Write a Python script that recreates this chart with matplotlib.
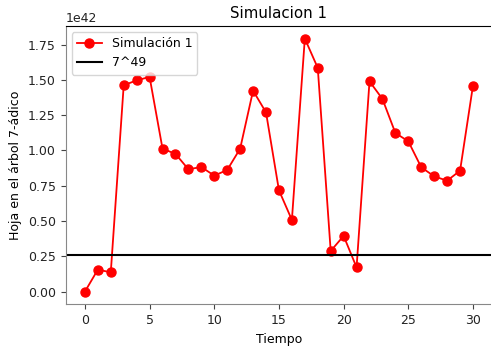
import matplotlib
matplotlib.use("Agg")
import matplotlib.pyplot as plt

plt.rcParams["font.family"] = ["DejaVu Sans"]
plt.rcParams["font.size"] = 9

tiempo = list(range(31))
hoja = [0.000, 0.156, 0.137, 1.462, 1.497, 1.521, 1.013, 0.976, 0.867, 0.883,
        0.822, 0.862, 1.013, 1.424, 1.270, 0.718, 0.508, 1.793, 1.585, 0.288,
        0.395, 0.172, 1.490, 1.365, 1.124, 1.065, 0.881, 0.817, 0.786, 0.857,
        1.460]
hoja = [v * 1e42 for v in hoja]
umbral = 7 ** 49

fig = plt.figure(figsize=(4.91, 3.48), dpi=100)
ax = fig.add_axes([65.5 / 491, (348 - 304.3) / 348,
                   (492.4 - 65.5) / 491, (304.3 - 26) / 348])

ax.plot(tiempo, hoja, color="red", marker="o", markersize=6.5, linewidth=1.3,
        label="Simulación 1")
ax.axhline(float(umbral), color="black", linewidth=1.5, label="7^49")

ax.set_title("Simulacion 1", fontsize=10.8)
ax.set_xlabel("Tiempo")
ax.set_ylabel("Hoja en el árbol 7-ádico")
ax.set_xticks([0, 5, 10, 15, 20, 25, 30])
ax.set_yticks([0, 0.25e42, 0.5e42, 0.75e42, 1.0e42, 1.25e42, 1.5e42, 1.75e42])
ax.set_xlim(-1.5, 31.5)
ax.set_ylim(-0.0896e42, 1.882e42)

for side in ("left", "bottom"):
    ax.spines[side].set_color("#888888")
ax.spines["top"].set_color("black")
ax.spines["right"].set_visible(False)
ax.tick_params(labelcolor="#222222", color="#444444")

ax.legend(loc="upper left")

fig.savefig("out.png", dpi=100)
